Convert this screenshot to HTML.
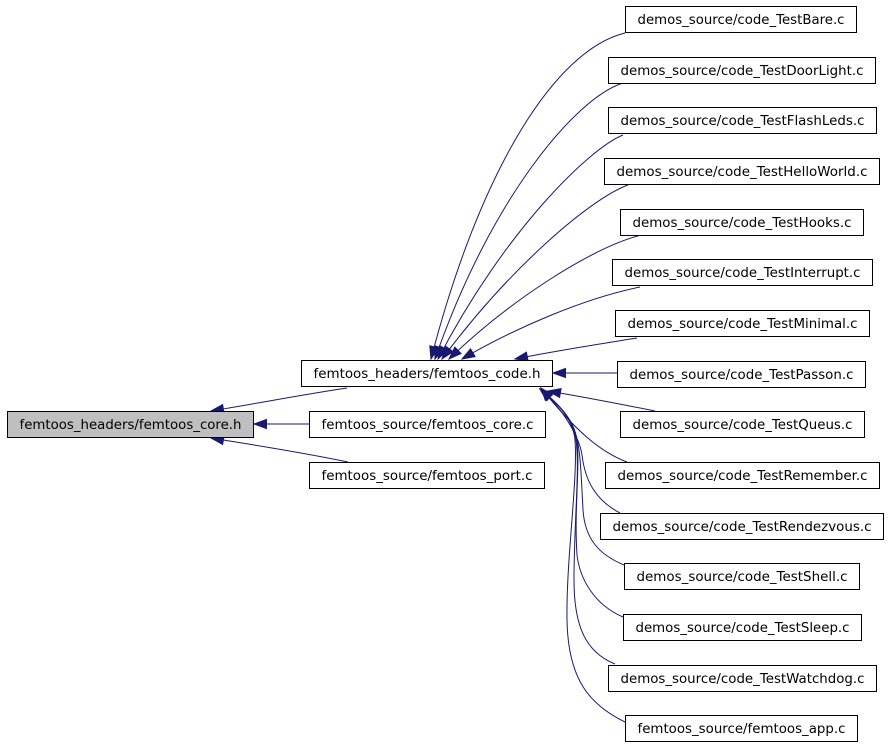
<!DOCTYPE html>
<html><head><meta charset="utf-8"><style>
html,body{margin:0;padding:0;background:#fff;}
svg{display:block;}
text{font-family:"DejaVu Sans","Liberation Sans",sans-serif;font-size:13px;fill:#000;}
</style></head><body>
<svg width="888" height="747" viewBox="0 0 888 747" xmlns="http://www.w3.org/2000/svg">
<defs>
<marker id="a" markerUnits="userSpaceOnUse" markerWidth="14" markerHeight="10" viewBox="0 -5 13 10" refX="12.5" refY="0" orient="auto" overflow="visible">
<polygon points="0,-4.5 12.5,0 0,4.5" fill="#191970" stroke="#191970" stroke-width="1"/>
</marker>
</defs>
<g fill="none" stroke="#191970" stroke-width="1" marker-end="url(#a)">
<!-- to core.h -->
<path d="M347,388 C300,395 260,403 211,411"/>
<path d="M309,424 L254,424"/>
<path d="M348,462 C300,452 260,446 211,438"/>
<!-- top edges to code.h -->
<path d="M625,33 C555,50 480,170 431,359"/>
<path d="M623,83 C575,98 490,200 435,359"/>
<path d="M623,135 C590,148 505,230 438,359"/>
<path d="M628,185 C592,198 512,265 442,359"/>
<path d="M638,236 C592,248 510,300 449,359"/>
<path d="M640,287 C585,298 515,328 462,359"/>
<path d="M637,338 C600,344 560,350 515,359"/>
<path d="M617,373 L553,373"/>
<path d="M655,411 C620,404 590,398 548,391"/>
<!-- bottom edges -->
<path d="M627,462 C600,452 575,430 541,388"/>
<path d="M620,513 C595,500 585,480 582,455 C580,440 565,410 540,389"/>
<path d="M624,565 C600,555 585,540 583,510 C581,470 580,450 577,440 C574,420 560,405 540,389"/>
<path d="M623,617 C595,605 580,580 577,555 C574,510 580,470 577,440 C574,420 560,405 540,389"/>
<path d="M615,664 C585,652 574,625 574,580 C574,520 580,470 576,440 C573,420 560,405 540,389"/>
<path d="M625,722 C590,705 568,680 567,620 C566,560 578,480 575,440 C573,420 560,405 540,389"/>
</g>
<g stroke="#000" stroke-width="1">
<rect x="7.5" y="411.5" width="246" height="26" fill="#bfbfbf"/>
<rect x="301.5" y="360.5" width="251" height="26" fill="#fff"/>
<rect x="309.5" y="411.5" width="236" height="26" fill="#fff"/>
<rect x="309.5" y="462.5" width="235" height="26" fill="#fff"/>
<rect x="625.5" y="6.5" width="231" height="26" fill="#fff"/>
<rect x="608.5" y="57.5" width="267" height="26" fill="#fff"/>
<rect x="608.5" y="107.5" width="268" height="26" fill="#fff"/>
<rect x="604.5" y="158.5" width="275" height="26" fill="#fff"/>
<rect x="620.5" y="209.5" width="243" height="26" fill="#fff"/>
<rect x="612.5" y="259.5" width="260" height="26" fill="#fff"/>
<rect x="615.5" y="310.5" width="254" height="26" fill="#fff"/>
<rect x="617.5" y="361.5" width="248" height="26" fill="#fff"/>
<rect x="620.5" y="411.5" width="244" height="26" fill="#fff"/>
<rect x="605.5" y="462.5" width="274" height="26" fill="#fff"/>
<rect x="600.5" y="513.5" width="283" height="26" fill="#fff"/>
<rect x="624.5" y="563.5" width="235" height="26" fill="#fff"/>
<rect x="623.5" y="614.5" width="238" height="26" fill="#fff"/>
<rect x="608.5" y="665.5" width="268" height="26" fill="#fff"/>
<rect x="625.5" y="715.5" width="232" height="26" fill="#fff"/>
</g>
<g text-anchor="middle">
<text x="130.5" y="429" textLength="222" lengthAdjust="spacingAndGlyphs">femtoos_headers/femtoos_core.h</text>
<text x="427" y="378" textLength="227" lengthAdjust="spacingAndGlyphs">femtoos_headers/femtoos_code.h</text>
<text x="427.5" y="429" textLength="212" lengthAdjust="spacingAndGlyphs">femtoos_source/femtoos_core.c</text>
<text x="427" y="480" textLength="211" lengthAdjust="spacingAndGlyphs">femtoos_source/femtoos_port.c</text>
<text x="741" y="24" textLength="207" lengthAdjust="spacingAndGlyphs">demos_source/code_TestBare.c</text>
<text x="742" y="75" textLength="243" lengthAdjust="spacingAndGlyphs">demos_source/code_TestDoorLight.c</text>
<text x="742.5" y="125" textLength="244" lengthAdjust="spacingAndGlyphs">demos_source/code_TestFlashLeds.c</text>
<text x="742" y="176" textLength="251" lengthAdjust="spacingAndGlyphs">demos_source/code_TestHelloWorld.c</text>
<text x="742" y="227" textLength="219" lengthAdjust="spacingAndGlyphs">demos_source/code_TestHooks.c</text>
<text x="742.5" y="277" textLength="236" lengthAdjust="spacingAndGlyphs">demos_source/code_TestInterrupt.c</text>
<text x="742.5" y="328" textLength="230" lengthAdjust="spacingAndGlyphs">demos_source/code_TestMinimal.c</text>
<text x="741.5" y="379" textLength="224" lengthAdjust="spacingAndGlyphs">demos_source/code_TestPasson.c</text>
<text x="742.5" y="429" textLength="220" lengthAdjust="spacingAndGlyphs">demos_source/code_TestQueus.c</text>
<text x="742.5" y="480" textLength="250" lengthAdjust="spacingAndGlyphs">demos_source/code_TestRemember.c</text>
<text x="742" y="531" textLength="259" lengthAdjust="spacingAndGlyphs">demos_source/code_TestRendezvous.c</text>
<text x="742" y="581" textLength="211" lengthAdjust="spacingAndGlyphs">demos_source/code_TestShell.c</text>
<text x="742.5" y="632" textLength="214" lengthAdjust="spacingAndGlyphs">demos_source/code_TestSleep.c</text>
<text x="742.5" y="683" textLength="244" lengthAdjust="spacingAndGlyphs">demos_source/code_TestWatchdog.c</text>
<text x="741.5" y="733" textLength="208" lengthAdjust="spacingAndGlyphs">femtoos_source/femtoos_app.c</text>
</g>
</svg>
</body></html>
